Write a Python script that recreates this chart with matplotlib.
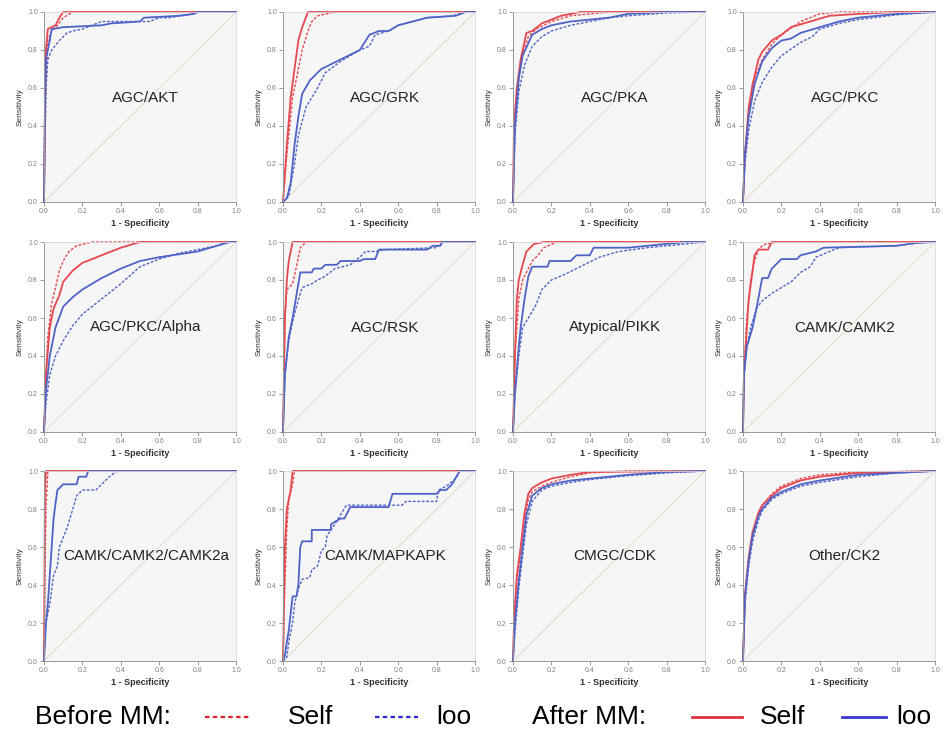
import matplotlib
matplotlib.use('Agg')
import matplotlib.pyplot as plt
from matplotlib.lines import Line2D

plt.rcParams['font.family'] = ['Liberation Sans', 'DejaVu Sans']

# ROC points (1 - specificity, sensitivity)
akt_self_before = [(0, 0), (0.01, 0.6), (0.02, 0.85), (0.04, 0.9), (0.07, 0.93), (0.1, 0.97), (0.15, 1.0), (1, 1)]
akt_loo_before = [(0, 0), (0.01, 0.6), (0.02, 0.75), (0.04, 0.8), (0.08, 0.85), (0.12, 0.89), (0.15, 0.9), (0.2, 0.91),
                  (0.3, 0.95), (0.55, 0.95), (0.6, 0.97), (0.65, 0.97), (0.78, 0.99), (0.8, 1.0), (1, 1)]
akt_self_after = [(0, 0), (0.005, 0.5), (0.01, 0.8), (0.02, 0.91), (0.04, 0.92), (0.06, 0.93), (0.08, 0.97), (0.1, 1.0), (1, 1)]
akt_loo_after = [(0, 0), (0.005, 0.5), (0.01, 0.75), (0.03, 0.85), (0.04, 0.91), (0.1, 0.92), (0.3, 0.93), (0.35, 0.94),
                 (0.5, 0.95), (0.52, 0.97), (0.7, 0.98), (0.78, 0.99), (0.8, 1.0), (1, 1)]

grk_self_before = [(0, 0), (0.02, 0.25), (0.05, 0.55), (0.08, 0.7), (0.1, 0.8), (0.13, 0.9), (0.15, 0.95), (0.18, 0.98), (0.27, 1.0), (1, 1)]
grk_loo_before = [(0, 0), (0.03, 0.03), (0.06, 0.2), (0.08, 0.35), (0.12, 0.5), (0.18, 0.6), (0.22, 0.68), (0.3, 0.74), (0.4, 0.8),
                  (0.45, 0.82), (0.48, 0.88), (0.55, 0.9), (0.6, 0.93), (0.75, 0.97), (0.88, 0.98), (0.92, 0.99), (0.95, 1.0), (1, 1)]
grk_self_after = [(0, 0), (0.02, 0.3), (0.04, 0.55), (0.06, 0.7), (0.08, 0.85), (0.1, 0.92), (0.13, 1.0), (1, 1)]
grk_loo_after = [(0, 0), (0.02, 0.02), (0.04, 0.1), (0.06, 0.3), (0.08, 0.45), (0.1, 0.57), (0.14, 0.64), (0.2, 0.7), (0.3, 0.75),
                 (0.4, 0.8), (0.45, 0.88), (0.5, 0.9), (0.55, 0.9), (0.6, 0.93), (0.75, 0.97), (0.9, 0.98), (0.95, 1.0), (1, 1)]

pka_self_before = [(0, 0), (0.01, 0.4), (0.03, 0.65), (0.05, 0.78), (0.08, 0.87), (0.12, 0.91), (0.2, 0.95), (0.3, 0.98), (0.4, 0.99), (0.5, 1.0), (1, 1)]
pka_loo_before = [(0, 0), (0.01, 0.35), (0.03, 0.58), (0.06, 0.72), (0.1, 0.82), (0.15, 0.87), (0.2, 0.9), (0.3, 0.93), (0.4, 0.95),
                  (0.5, 0.97), (0.6, 0.98), (0.8, 0.995), (1, 1)]
pka_self_after = [(0, 0), (0.005, 0.4), (0.02, 0.6), (0.04, 0.75), (0.07, 0.89), (0.1, 0.9), (0.15, 0.94), (0.2, 0.96), (0.25, 0.98), (0.35, 1.0), (1, 1)]
pka_loo_after = [(0, 0), (0.01, 0.4), (0.03, 0.65), (0.05, 0.77), (0.1, 0.88), (0.15, 0.91), (0.2, 0.93), (0.3, 0.95), (0.4, 0.96),
                 (0.5, 0.97), (0.6, 0.99), (0.8, 1.0), (1, 1)]

pkc_self_before = [(0, 0), (0.01, 0.25), (0.03, 0.48), (0.06, 0.65), (0.1, 0.75), (0.15, 0.83), (0.2, 0.88), (0.3, 0.95), (0.4, 0.99), (0.5, 1.0), (1, 1)]
pkc_loo_before = [(0, 0), (0.01, 0.2), (0.03, 0.38), (0.06, 0.53), (0.1, 0.63), (0.15, 0.71), (0.2, 0.77), (0.3, 0.84), (0.36, 0.87),
                  (0.4, 0.91), (0.5, 0.94), (0.6, 0.96), (0.8, 0.985), (1, 1)]
pkc_self_after = [(0, 0), (0.01, 0.25), (0.03, 0.5), (0.05, 0.62), (0.08, 0.75), (0.1, 0.79), (0.15, 0.85), (0.2, 0.88), (0.25, 0.92),
                  (0.35, 0.95), (0.45, 0.98), (0.6, 0.99), (0.8, 1.0), (1, 1)]
pkc_loo_after = [(0, 0), (0.01, 0.25), (0.03, 0.45), (0.06, 0.62), (0.1, 0.74), (0.15, 0.81), (0.2, 0.85), (0.25, 0.86), (0.3, 0.89),
                 (0.4, 0.92), (0.5, 0.95), (0.6, 0.97), (0.8, 0.99), (1, 1)]

alpha_self_before = [(0, 0), (0.01, 0.3), (0.02, 0.5), (0.04, 0.68), (0.06, 0.76), (0.08, 0.85), (0.1, 0.9), (0.13, 0.95), (0.17, 0.98), (0.25, 1.0), (1, 1)]
alpha_loo_before = [(0, 0), (0.01, 0.15), (0.03, 0.3), (0.06, 0.4), (0.1, 0.48), (0.15, 0.56), (0.2, 0.62), (0.3, 0.7), (0.4, 0.78),
                    (0.5, 0.87), (0.6, 0.91), (0.7, 0.94), (0.8, 0.96), (0.9, 0.98), (0.95, 1.0), (1, 1)]
alpha_self_after = [(0, 0), (0.01, 0.3), (0.03, 0.55), (0.05, 0.65), (0.08, 0.72), (0.1, 0.79), (0.15, 0.85), (0.2, 0.89), (0.3, 0.93),
                    (0.4, 0.97), (0.5, 1.0), (1, 1)]
alpha_loo_after = [(0, 0), (0.01, 0.22), (0.03, 0.4), (0.06, 0.55), (0.1, 0.66), (0.15, 0.71), (0.2, 0.75), (0.3, 0.81), (0.4, 0.86),
                   (0.5, 0.9), (0.6, 0.92), (0.8, 0.95), (0.9, 0.98), (0.97, 1.0), (1, 1)]

rsk_self_before = [(0, 0), (0.005, 0.3), (0.01, 0.6), (0.02, 0.75), (0.05, 0.78), (0.07, 0.87), (0.09, 0.97), (0.12, 1.0), (1, 1)]
rsk_loo_before = [(0, 0), (0.01, 0.3), (0.03, 0.48), (0.05, 0.58), (0.07, 0.66), (0.09, 0.73), (0.1, 0.76), (0.15, 0.78), (0.18, 0.8),
                  (0.22, 0.82), (0.27, 0.86), (0.35, 0.88), (0.4, 0.92), (0.43, 0.95), (0.5, 0.95), (0.52, 0.96), (0.8, 0.97), (0.83, 1.0), (1, 1)]
rsk_self_after = [(0, 0), (0.005, 0.3), (0.01, 0.6), (0.02, 0.8), (0.03, 0.9), (0.04, 0.95), (0.05, 1.0), (1, 1)]
rsk_loo_after = [(0, 0), (0.01, 0.3), (0.02, 0.4), (0.03, 0.5), (0.05, 0.6), (0.07, 0.72), (0.09, 0.84), (0.15, 0.84), (0.16, 0.86),
                 (0.2, 0.86), (0.22, 0.88), (0.28, 0.88), (0.3, 0.9), (0.4, 0.9), (0.42, 0.91), (0.48, 0.91), (0.5, 0.96), (0.75, 0.96),
                 (0.78, 0.98), (0.82, 0.98), (0.83, 1.0), (1, 1)]

pikk_self_before = [(0, 0), (0.01, 0.4), (0.03, 0.7), (0.05, 0.8), (0.08, 0.86), (0.1, 0.9), (0.13, 0.93), (0.16, 0.97), (0.23, 1.0), (1, 1)]
pikk_loo_before = [(0, 0), (0.01, 0.2), (0.03, 0.4), (0.05, 0.55), (0.08, 0.6), (0.12, 0.67), (0.15, 0.75), (0.2, 0.8), (0.27, 0.83),
                   (0.35, 0.87), (0.45, 0.92), (0.55, 0.95), (0.7, 0.97), (0.9, 0.99), (1, 1)]
pikk_self_after = [(0, 0), (0.01, 0.4), (0.02, 0.7), (0.03, 0.8), (0.05, 0.88), (0.07, 0.95), (0.09, 0.97), (0.11, 0.99), (0.16, 1.0), (1, 1)]
pikk_loo_after = [(0, 0), (0.01, 0.2), (0.03, 0.45), (0.04, 0.55), (0.06, 0.7), (0.08, 0.82), (0.1, 0.87), (0.18, 0.87), (0.19, 0.9),
                  (0.3, 0.9), (0.33, 0.93), (0.4, 0.93), (0.42, 0.97), (0.6, 0.97), (0.7, 0.98), (0.9, 1.0), (1, 1)]

camk2_self_before = [(0, 0), (0.005, 0.3), (0.02, 0.6), (0.04, 0.8), (0.06, 0.9), (0.08, 0.96), (0.1, 0.98), (0.12, 0.99), (0.18, 1.0), (1, 1)]
camk2_loo_before = [(0, 0), (0.005, 0.3), (0.02, 0.45), (0.04, 0.55), (0.07, 0.65), (0.1, 0.69), (0.15, 0.73), (0.2, 0.76), (0.25, 0.79),
                    (0.3, 0.84), (0.35, 0.87), (0.38, 0.92), (0.45, 0.95), (0.5, 0.97), (0.8, 0.98), (0.95, 1.0), (1, 1)]
camk2_self_after = [(0, 0), (0.005, 0.3), (0.02, 0.55), (0.03, 0.7), (0.05, 0.85), (0.06, 0.93), (0.08, 0.96), (0.13, 0.96), (0.15, 1.0), (1, 1)]
camk2_loo_after = [(0, 0), (0.005, 0.3), (0.02, 0.45), (0.05, 0.55), (0.07, 0.65), (0.1, 0.81), (0.13, 0.81), (0.15, 0.86), (0.2, 0.91),
                   (0.28, 0.91), (0.3, 0.93), (0.38, 0.95), (0.42, 0.97), (0.8, 0.98), (0.9, 0.995), (1, 1)]

camk2a_self_before = [(0, 0), (0.01, 0.8), (0.02, 1.0), (1, 1)]
camk2a_loo_before = [(0, 0), (0.01, 0.2), (0.03, 0.3), (0.05, 0.45), (0.07, 0.5), (0.08, 0.6), (0.1, 0.65), (0.12, 0.7), (0.15, 0.8),
                     (0.17, 0.87), (0.2, 0.9), (0.27, 0.9), (0.3, 0.93), (0.34, 0.97), (0.38, 1.0), (1, 1)]
camk2a_self_after = [(0, 0), (0.005, 0.9), (0.01, 1.0), (1, 1)]
camk2a_loo_after = [(0, 0), (0.01, 0.2), (0.02, 0.3), (0.03, 0.45), (0.04, 0.6), (0.05, 0.75), (0.06, 0.83), (0.07, 0.9), (0.1, 0.93),
                    (0.17, 0.93), (0.18, 0.97), (0.22, 0.97), (0.23, 1.0), (1, 1)]

mapkapk_self_before = [(0, 0), (0.01, 0.4), (0.02, 0.7), (0.03, 0.85), (0.05, 0.93), (0.06, 1.0), (1, 1)]
mapkapk_loo_before = [(0, 0), (0.02, 0.02), (0.03, 0.1), (0.05, 0.2), (0.06, 0.3), (0.08, 0.38), (0.1, 0.43), (0.14, 0.44), (0.15, 0.48),
                      (0.18, 0.5), (0.2, 0.58), (0.22, 0.6), (0.23, 0.66), (0.27, 0.72), (0.3, 0.77), (0.33, 0.82), (0.62, 0.82),
                      (0.64, 0.84), (0.8, 0.84), (0.81, 0.9), (0.85, 0.92), (0.9, 0.96), (0.92, 1.0), (1, 1)]
mapkapk_self_after = [(0, 0), (0.005, 0.3), (0.01, 0.6), (0.02, 0.8), (0.04, 0.9), (0.05, 1.0), (1, 1)]
mapkapk_loo_after = [(0, 0), (0.01, 0.03), (0.02, 0.1), (0.03, 0.16), (0.04, 0.25), (0.05, 0.34), (0.07, 0.34), (0.08, 0.4), (0.09, 0.6),
                     (0.1, 0.63), (0.15, 0.63), (0.15, 0.69), (0.25, 0.69), (0.25, 0.72), (0.3, 0.75), (0.32, 0.75), (0.35, 0.81),
                     (0.55, 0.81), (0.57, 0.88), (0.8, 0.88), (0.82, 0.9), (0.85, 0.9), (0.88, 0.93), (0.92, 1.0), (1, 1)]

cdk_self_before = [(0, 0), (0.005, 0.2), (0.02, 0.42), (0.04, 0.58), (0.06, 0.75), (0.08, 0.85), (0.1, 0.89), (0.15, 0.92), (0.2, 0.94),
                   (0.3, 0.97), (0.4, 0.99), (0.6, 1.0), (1, 1)]
cdk_loo_before = [(0, 0), (0.01, 0.15), (0.03, 0.38), (0.05, 0.55), (0.07, 0.72), (0.1, 0.84), (0.15, 0.9), (0.2, 0.92), (0.3, 0.94),
                  (0.4, 0.955), (0.6, 0.975), (0.8, 0.99), (1, 1)]
cdk_self_after = [(0, 0), (0.005, 0.2), (0.02, 0.45), (0.04, 0.6), (0.06, 0.78), (0.08, 0.88), (0.1, 0.91), (0.15, 0.94), (0.2, 0.96),
                  (0.3, 0.98), (0.4, 0.995), (1, 1)]
cdk_loo_after = [(0, 0), (0.01, 0.2), (0.03, 0.42), (0.05, 0.6), (0.07, 0.77), (0.1, 0.87), (0.15, 0.91), (0.2, 0.93), (0.3, 0.95),
                 (0.4, 0.96), (0.6, 0.98), (0.8, 0.995), (1, 1)]

ck2_self_before = [(0, 0), (0.01, 0.33), (0.03, 0.53), (0.05, 0.66), (0.08, 0.77), (0.1, 0.82), (0.15, 0.88), (0.2, 0.92), (0.3, 0.96),
                   (0.4, 0.98), (0.6, 0.995), (1, 1)]
ck2_loo_before = [(0, 0), (0.01, 0.3), (0.03, 0.5), (0.05, 0.63), (0.08, 0.74), (0.1, 0.79), (0.15, 0.85), (0.2, 0.88), (0.3, 0.92),
                  (0.4, 0.94), (0.6, 0.97), (0.8, 0.99), (1, 1)]
ck2_self_after = [(0, 0), (0.01, 0.35), (0.03, 0.55), (0.05, 0.68), (0.08, 0.78), (0.1, 0.82), (0.15, 0.87), (0.2, 0.91), (0.3, 0.95),
                  (0.4, 0.97), (0.6, 0.99), (1, 1)]
ck2_loo_after = [(0, 0), (0.01, 0.33), (0.03, 0.53), (0.05, 0.66), (0.08, 0.76), (0.1, 0.8), (0.15, 0.86), (0.2, 0.89), (0.3, 0.93),
                 (0.4, 0.95), (0.6, 0.98), (0.8, 0.99), (1, 1)]

titles = ['AGC/AKT', 'AGC/GRK', 'AGC/PKA', 'AGC/PKC',
          'AGC/PKC/Alpha', 'AGC/RSK', 'Atypical/PIKK', 'CAMK/CAMK2',
          'CAMK/CAMK2/CAMK2a', 'CAMK/MAPKAPK', 'CMGC/CDK', 'Other/CK2']
curves = [
    (akt_self_before, akt_loo_before, akt_self_after, akt_loo_after),
    (grk_self_before, grk_loo_before, grk_self_after, grk_loo_after),
    (pka_self_before, pka_loo_before, pka_self_after, pka_loo_after),
    (pkc_self_before, pkc_loo_before, pkc_self_after, pkc_loo_after),
    (alpha_self_before, alpha_loo_before, alpha_self_after, alpha_loo_after),
    (rsk_self_before, rsk_loo_before, rsk_self_after, rsk_loo_after),
    (pikk_self_before, pikk_loo_before, pikk_self_after, pikk_loo_after),
    (camk2_self_before, camk2_loo_before, camk2_self_after, camk2_loo_after),
    (camk2a_self_before, camk2a_loo_before, camk2a_self_after, camk2a_loo_after),
    (mapkapk_self_before, mapkapk_loo_before, mapkapk_self_after, mapkapk_loo_after),
    (cdk_self_before, cdk_loo_before, cdk_self_after, cdk_loo_after),
    (ck2_self_before, ck2_loo_before, ck2_self_after, ck2_loo_after),
]

red = '#e5484f'
blue = '#4f63c6'
styles = [
    dict(color=red, lw=1.0, ls=(0, (2.0, 1.2))),
    dict(color=blue, lw=1.0, ls=(0, (2.0, 1.2))),
    dict(color=red, lw=1.3, ls='-'),
    dict(color=blue, lw=1.3, ls='-'),
]

W, H = 948, 734
fig = plt.figure(figsize=(W / 100, H / 100), dpi=100)
fig.patch.set_facecolor('white')

col_left = [44, 283, 513, 743]
row_top = [12, 242, 471]
aw, ah = 192, 190

for i, (title, cset) in enumerate(zip(titles, curves)):
    r, c = divmod(i, 4)
    ax = fig.add_axes([col_left[c] / W, 1 - (row_top[r] + ah) / H, aw / W, ah / H])
    ax.set_facecolor('#f6f6f6')
    ax.plot([0, 1], [0, 1], color='#e2d9c4', lw=0.7)
    for pts, st in zip(cset, styles):
        xs = [p[0] for p in pts]
        ys = [p[1] for p in pts]
        ax.plot(xs, ys, clip_on=False, **st)
    ax.set_xlim(0, 1)
    ax.set_ylim(0, 1)
    ticks = [0, 0.2, 0.4, 0.6, 0.8, 1.0]
    ax.set_xticks(ticks)
    ax.set_yticks(ticks)
    ax.set_xticklabels(['%.1f' % t for t in ticks])
    ax.set_yticklabels(['%.1f' % t for t in ticks])
    ax.tick_params(length=3, width=0.6, color='#888888', labelsize=5, labelcolor='#808080', pad=1.5)
    for s in ['left', 'bottom']:
        ax.spines[s].set_color('#999999')
        ax.spines[s].set_linewidth(0.7)
    for s in ['top', 'right']:
        ax.spines[s].set_color('#d8d8d8')
        ax.spines[s].set_linewidth(0.6)
    ax.set_xlabel('1 - Specificity', fontsize=6.5, fontweight='bold', color='#333333', labelpad=3)
    ax.set_ylabel('Sensitivity', fontsize=6, color='#333333', labelpad=3)
    ax.text(0.53, 0.55, title, transform=ax.transAxes, ha='center', va='center', fontsize=11, color='#222222')

# legend row at the bottom
ly = 1 - 717 / H
fs = 19
fig.text(35 / W, ly, 'Before MM:', fontsize=fs, va='center', ha='left')
fig.add_artist(Line2D([205 / W, 250 / W], [ly, ly], color='#e02030', lw=1.6, ls=(0, (2, 1.5))))
fig.text(288 / W, ly, 'Self', fontsize=fs, va='center', ha='left')
fig.add_artist(Line2D([375 / W, 418 / W], [ly, ly], color='#2a2ad0', lw=1.6, ls=(0, (2, 1.5))))
fig.text(436 / W, ly, 'loo', fontsize=fs, va='center', ha='left')
fig.text(532 / W, ly, 'After MM:', fontsize=fs, va='center', ha='left')
fig.add_artist(Line2D([692 / W, 742 / W], [ly, ly], color='#e03040', lw=2))
fig.text(760 / W, ly, 'Self', fontsize=fs, va='center', ha='left')
fig.add_artist(Line2D([842 / W, 886 / W], [ly, ly], color='#3a3ad0', lw=2))
fig.text(896 / W, ly, 'loo', fontsize=fs, va='center', ha='left')

fig.savefig('out.png', dpi=100)
